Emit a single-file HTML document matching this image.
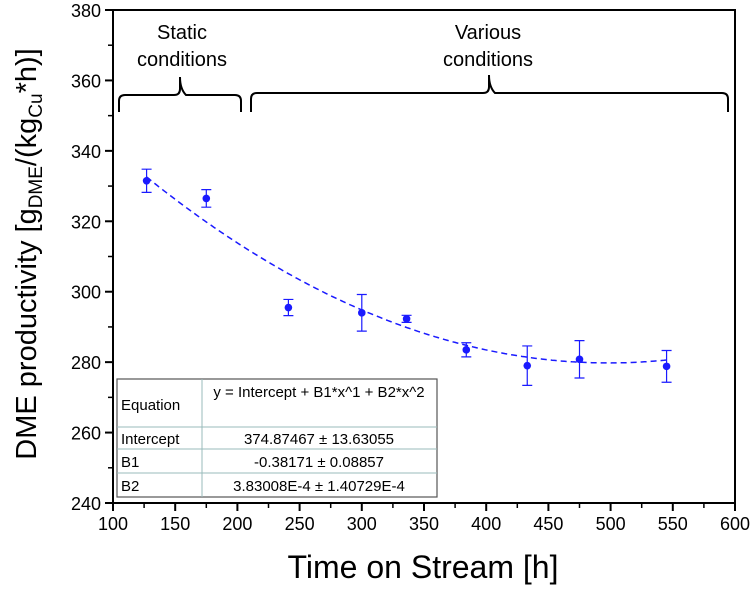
<!DOCTYPE html>
<html><head><meta charset="utf-8"><style>
body{margin:0;background:#fff;width:754px;height:592px;overflow:hidden}
svg{font-family:"Liberation Sans",Arial,sans-serif}
</style></head><body>
<svg width="754" height="592" viewBox="0 0 754 592">
<g id="plot"></g>
</svg>
<script>
const times=[127,175,241,300,336,384,433,475,545];
const prod=[331.5,326.5,295.5,294,292.3,283.5,279,280.8,278.8];
const errs=[3.3,2.5,2.3,5.2,1,2,5.6,5.3,4.5];
const xTicks=[100,150,200,250,300,350,400,450,500,550,600];
const yTicks=[240,260,280,300,320,340,360,380];
const coef=[374.87467,-0.38171,3.83008e-4];
const L=113,R=735,T=10,B=503;
const X=v=>L+(v-100)/500*(R-L);
const Y=v=>B-(v-240)/140*(B-T);
const NS='http://www.w3.org/2000/svg';
const g=document.getElementById('plot');
function mk(tag,attrs,parent){const e=document.createElementNS(NS,tag);for(const k in attrs)e.setAttribute(k,attrs[k]);(parent||g).appendChild(e);return e;}
let f=mk('rect',{x:L,y:T,width:R-L,height:B-T,fill:'none',stroke:'#000','stroke-width':2});


xTicks.forEach((v,i)=>{
  let t=mk('line',{x1:X(v),x2:X(v),y1:B,y2:B+8,stroke:'#000','stroke-width':2});
  
  
  if(i<xTicks.length-1){let m=mk('line',{x1:X(v+25),x2:X(v+25),y1:B,y2:B+5,stroke:'#000','stroke-width':1.5});
  
  }
  let l=mk('text',{x:X(v),y:B+27,'font-size':18,'text-anchor':'middle'});l.textContent=v;
  
  
});
yTicks.forEach((v,i)=>{
  let t=mk('line',{x1:L-8,x2:L,y1:Y(v),y2:Y(v),stroke:'#000','stroke-width':2});
  
  
  if(i<yTicks.length-1){let m=mk('line',{x1:L-5,x2:L,y1:Y(v+10),y2:Y(v+10),stroke:'#000','stroke-width':1.5});
  
  }
  let l=mk('text',{x:L-12,y:Y(v)+7,'font-size':18,'text-anchor':'end'});l.textContent=v;
  
  
});
let d='';const tEnd=times[times.length-1];for(let t=times[0];t<=tEnd;t+=2){const y=coef[0]+coef[1]*t+coef[2]*t*t;d+=(d?'L':'M')+X(t).toFixed(1)+','+Y(y).toFixed(1);}
let c=mk('path',{d:d,fill:'none',stroke:'#1a1aff','stroke-width':1.5,'stroke-dasharray':'6,4'});


times.forEach((t,i)=>{
  const x=X(t),y1=Y(prod[i]+errs[i]),y2=Y(prod[i]-errs[i]);
  let e=mk('path',{d:`M${x},${y1}V${y2}M${x-5},${y1}H${x+5}M${x-5},${y2}H${x+5}`,stroke:'#1a1aff','stroke-width':1.2,fill:'none'});
  
  
  let p=mk('circle',{cx:x,cy:Y(prod[i]),r:3.8,fill:'#1a1aff'});
  
  
});
</script>
<svg style="position:absolute;left:0;top:0" width="754" height="592">
<g font-family="Liberation Sans, Arial, sans-serif">
<path d="M119,112 V101 Q119,95 125,95 H174 Q180,95 180,89 V77 Q180,89 186,95 H235 Q241,95 241,101 V112" fill="none" stroke="#000" stroke-width="2"/>
<path d="M251,112 V99 Q251,93 257,93 H483 Q489,93 489,87 V75 Q489,87 495,93 H722 Q728,93 728,99 V112" fill="none" stroke="#000" stroke-width="2"/>
<text x="182" y="39" font-size="20" text-anchor="middle">Static</text>
<text x="182" y="66" font-size="20" text-anchor="middle">conditions</text>
<text x="488" y="39" font-size="20" text-anchor="middle">Various</text>
<text x="488" y="66" font-size="20" text-anchor="middle">conditions</text>
<text x="423" y="578" font-size="32" text-anchor="middle">Time on Stream [h]</text>
<text transform="translate(36,254) rotate(-90)" font-size="29" text-anchor="middle">DME productivity [g<tspan font-size="19" dy="6">DME</tspan><tspan dy="-6">/(kg</tspan><tspan font-size="19" dy="6">Cu</tspan><tspan dy="-6">*h)]</tspan></text>
<g>
<rect x="117" y="379" width="320" height="118" fill="#fff" stroke="#555" stroke-width="1.2"/>
<line x1="202" y1="379" x2="202" y2="497" stroke="#9bb" stroke-width="1"/>
<line x1="117" y1="427" x2="437" y2="427" stroke="#9bb"/>
<line x1="117" y1="449" x2="437" y2="449" stroke="#9bb"/>
<line x1="117" y1="473" x2="437" y2="473" stroke="#9bb"/>
<g font-size="15">
<text x="121" y="410">Equation</text>
<text x="319" y="397" text-anchor="middle">y = Intercept + B1*x^1 + B2*x^2</text>
<text x="121" y="444">Intercept</text>
<text x="319" y="444" text-anchor="middle">374.87467 ± 13.63055</text>
<text x="121" y="467">B1</text>
<text x="319" y="467" text-anchor="middle">-0.38171 ± 0.08857</text>
<text x="121" y="491">B2</text>
<text x="319" y="491" text-anchor="middle">3.83008E-4 ± 1.40729E-4</text>
</g></g>
</g></svg>
</body></html>
